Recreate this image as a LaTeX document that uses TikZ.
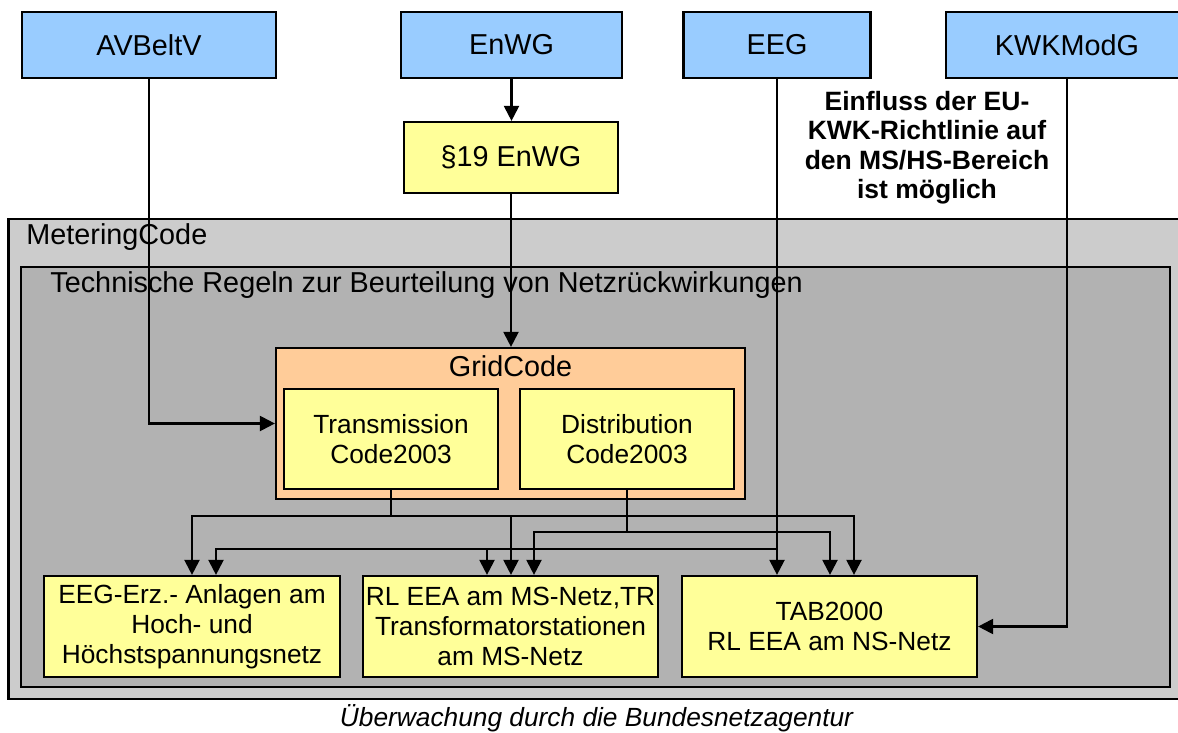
\documentclass[tikz,border=0pt]{standalone}
\usepackage{fontspec}
\setmainfont{Liberation Sans}
\usetikzlibrary{arrows.meta}

\definecolor{lawblue}{RGB}{153,204,255}
\definecolor{ruleyellow}{RGB}{255,255,153}
\definecolor{gridorange}{RGB}{255,204,153}
\definecolor{metergray}{RGB}{204,204,204}
\definecolor{regelgray}{RGB}{178,178,178}

\tikzset{
  lw/.style={line width=1.1pt},
  frame/.style={draw, lw, inner sep=0pt, align=center},
  bigtext/.style={font=\fontsize{14.4}{17}\selectfont},
  smalltext/.style={font=\fontsize{13.15}{15}\selectfont},
  lawbox/.style={frame, fill=lawblue, bigtext, minimum height=33pt},
  rulebox/.style={frame, fill=ruleyellow, smalltext},
  conn/.style={lw, -{Triangle[length=7.5pt,width=7.5pt]}},
}

\begin{document}
\begin{tikzpicture}[x=0.5pt, y=-0.5pt]
\useasboundingbox (0,0) rectangle (1178,733);
\clip (0,0) rectangle (1178,733);

% laws at the top
\node[lawbox, minimum width=127pt]   (avbeltv) at (149,45)   {AVBeltV};
\node[lawbox, minimum width=110.5pt] (enwg)    at (511.5,45) {EnWG};
\node[lawbox, minimum width=93.5pt]  (eeg)     at (777,45)   {EEG};
\node[lawbox, minimum width=121pt]   (kwk)     at (1067,45)  {KWKModG};

\node[rulebox, bigtext, minimum width=107pt, minimum height=35.5pt] (para19) at (511,157.5) {§19 EnWG};

\node[align=center, font=\fontsize{13.25}{14.75}\selectfont\bfseries] (note) at (927,147.5)
  {Einfluss der EU-\\KWK-Richtlinie auf\\den MS/HS-Bereich\\ist möglich};

% nested code frames
\node[frame, fill=metergray, minimum width=590.8pt, minimum height=240pt] (meter) at (599.2,459) {};
\node[anchor=west, inner sep=0pt, bigtext] (meterlabel) at (26,237) {MeteringCode};

\node[frame, fill=regelgray, minimum width=574.5pt, minimum height=210pt] (regeln) at (595.5,477) {};
\node[anchor=west, inner sep=0pt, bigtext] (regellabel) at (50,285)
  {Technische Regeln zur Beurteilung von Netzrückwirkungen};

\node[frame, fill=gridorange, minimum width=234.5pt, minimum height=75.5pt] (grid) at (510.5,423.5) {};
\node[inner sep=0pt, bigtext] (gridlabel) at (510.5,366) {GridCode};

\node[rulebox, minimum width=107pt, minimum height=50pt] (trans) at (391,439) {Transmission\\Code2003};
\node[rulebox, minimum width=107pt, minimum height=50pt] (dist)  at (627,439) {Distribution\\Code2003};

% technical rules at the bottom
\node[rulebox, minimum width=148pt,   minimum height=50.5pt] (eegerz) at (192,626.5)
  {EEG-Erz.- Anlagen am\\Hoch- und\\Höchstspannungsnetz};
\node[rulebox, minimum width=147.5pt, minimum height=50.5pt] (rlms)   at (510.5,626.5)
  {RL EEA am MS-Netz,TR\\Transformatorstationen\\am MS-Netz};
\node[rulebox, minimum width=147.5pt, minimum height=50.5pt] (tab)    at (829.5,626.5)
  {TAB2000\\RL EEA am NS-Netz};

\node[inner sep=0pt, font=\fontsize{13.15}{15}\selectfont\itshape] (caption) at (596.5,718)
  {Überwachung durch die Bundesnetzagentur};

% connectors from the laws
\draw[conn] (avbeltv.south) |- (grid.west);
\draw[conn] (enwg.south) -- (enwg.south |- para19.north);
\draw[conn] (para19.south) -- (para19.south |- grid.north);

% Transmission Code bus
\coordinate (tL) at (192,516);
\coordinate (tM) at (511,516);
\coordinate (tR) at (854,516);
\draw[conn] (trans.south) |- (tL) -- (tL |- eegerz.north);
\draw[conn] (trans.south) |- (tR) -- (tR |- tab.north);
\draw[conn] (tM) -- (tM |- rlms.north);

% Distribution Code bus
\coordinate (dL) at (534,532);
\coordinate (dR) at (830,532);
\draw[conn] (dist.south) |- (dL) -- (dL |- rlms.north);
\draw[conn] (dist.south) |- (dR) -- (dR |- tab.north);

% EEG line and its branch
\draw[conn] (eeg.south) -- (eeg.south |- tab.north);
\coordinate (eJ) at (777,549);
\coordinate (eL) at (216,549);
\coordinate (eM) at (487,549);
\draw[conn] (eJ) -- (eL) -- (eL |- eegerz.north);
\draw[conn] (eM) -- (eM |- rlms.north);

% KWKModG to TAB2000
\draw[conn] (kwk.south) |- (tab.east);
\end{tikzpicture}
\end{document}
